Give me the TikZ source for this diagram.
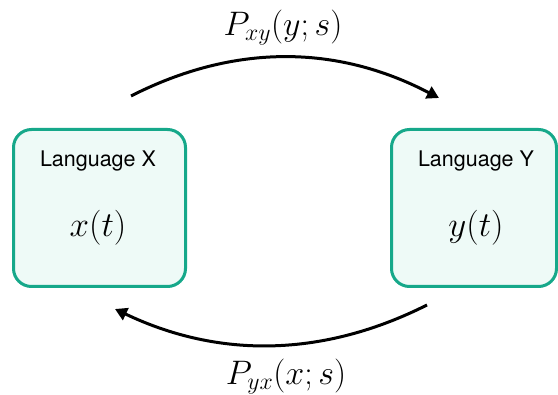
\RequirePackage{fix-cm}
\documentclass[tikz,border=0pt]{standalone}
\usepackage{fontspec}
\setsansfont{TeX Gyre Heros}
\usetikzlibrary{arrows.meta}
\definecolor{boxedge}{RGB}{22,168,138}
\definecolor{boxfill}{RGB}{238,250,247}
\tikzset{
  langbox/.style={draw=boxedge, fill=boxfill, line width=3pt, rounded corners=18pt},
  langlabel/.style={font=\sffamily\fontsize{21.5}{25}\selectfont, inner sep=0pt},
  mathlabel/.style={font=\fontsize{35}{40}\selectfont, inner sep=0pt},
  arclabel/.style={font=\fontsize{34}{40}\selectfont, inner sep=0pt},
  flow/.style={line width=3pt, -{Triangle[length=12pt,width=13pt]}}
}
\begin{document}
\begin{tikzpicture}[x=1pt,y=-1pt]
\useasboundingbox (0,0) rectangle (558,395);
% boxes
\draw[langbox] (13.5,129.5) rectangle (185.5,286.5);
\draw[langbox] (391.5,129.5) rectangle (556.5,286.5);
\node[langlabel] (lx) at (98,161) {Language X};
\node[mathlabel] (xt) at (98,228) {$x(t)$};
\node[langlabel] (ly) at (476,161) {Language Y};
\node[mathlabel] (yt) at (476,228) {$y(t)$};
% arc end points
\coordinate (ts) at (131,96);
\coordinate (te) at (439,98);
\coordinate (bs) at (427,305);
\coordinate (be) at (115,309);
\draw[flow] (ts) .. controls (233.7,43.7) and (336.3,44.3) .. (te);
\draw[flow] (bs) .. controls (323,357.3) and (219,358.7) .. (be);
\node[arclabel] (pxy) at (283,28) {$P_{xy}(y;s)$};
\node[arclabel] (pyx) at (286,377) {$P_{yx}(x;s)$};
\end{tikzpicture}
\end{document}
